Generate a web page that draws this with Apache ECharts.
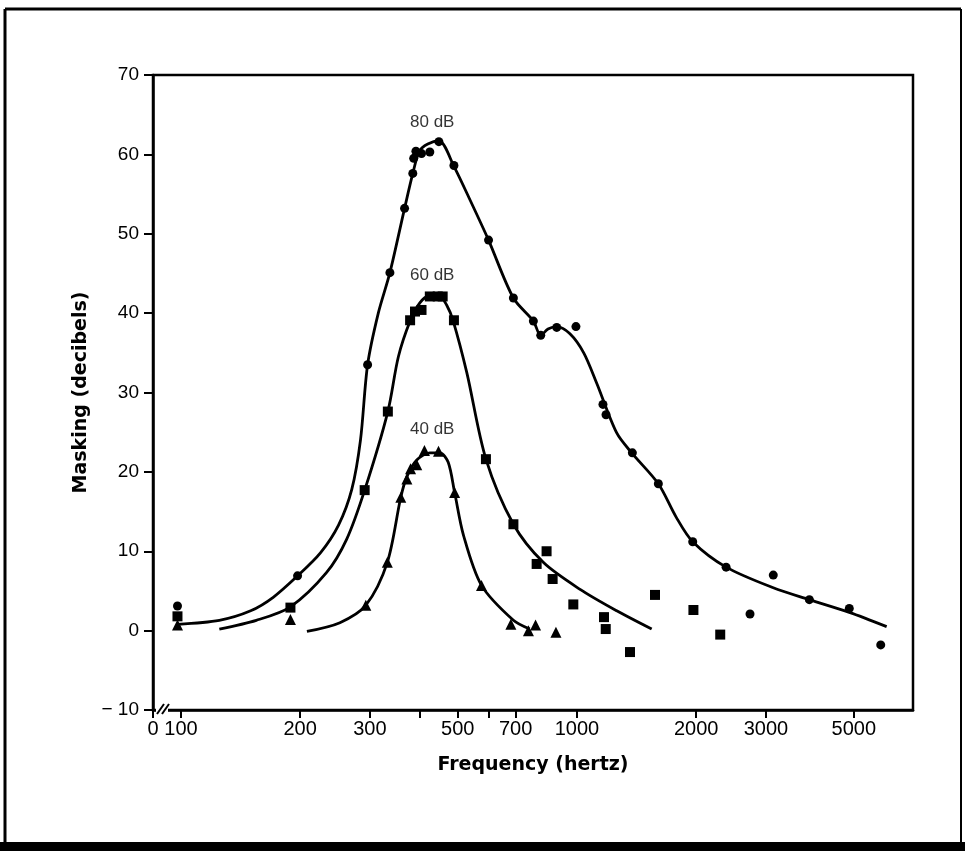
<!DOCTYPE html>
<html><head><meta charset="utf-8">
<script src="https://cdn.jsdelivr.net/npm/echarts@6/dist/echarts.min.js"></script>
<style>html,body{margin:0;padding:0;background:#fff}#c{width:965px;height:851px}</style>
</head><body><div id="c"></div><script>
// ---- axis ticks ----
const X_MIN = 85, X_MAX = 7055;
const X_TICKS = [85, 100, 200, 300, 400, 500, 600, 700, 1000, 2000, 3000, 5000];
const X_TICK_LABELS = ['0', '100', '200', '300', '', '500', '', '700', '1000', '2000', '3000', '5000'];
const Y_MIN = -10, Y_MAX = 70, Y_STEP = 10;

// ---- measured points [Hz, dB] ----
const points80 = [[98,3.1],[197,6.9],[296,33.5],[337,45.1],[367,53.2],[385,57.6],[387,59.5],[392,60.4],[405,60.1],[425,60.3],[448,61.6],[489,58.6],[598,49.2],[691,41.9],[776,39.0],[810,37.2],[889,38.2],[994,38.3],[1163,28.5],[1184,27.2],[1380,22.4],[1605,18.5],[1960,11.2],[2380,8.0],[2735,2.1],[3131,7.0],[3862,3.9],[4871,2.8],[5848,-1.8]];
const points60 = [[98,1.8],[189,2.9],[291,17.7],[333,27.6],[379,39.1],[390,40.2],[405,40.4],[425,42.1],[445,42.1],[458,42.1],[489,39.1],[589,21.6],[691,13.4],[791,8.4],[838,10.0],[868,6.5],[979,3.3],[1170,1.7],[1182,0.2],[1361,-2.7],[1574,4.5],[1968,2.6],[2300,-0.5]];
const points40 = [[98,0.7],[189,1.4],[293,3.2],[332,8.6],[359,16.8],[372,19.1],[380,20.4],[394,20.9],[412,22.7],[447,22.6],[491,17.4],[574,5.7],[681,0.8],[754,0.0],[786,0.7],[885,-0.2]];

// ---- fitted curves [Hz, dB] ----
const curve80 = [[98,0.8],[125,1.3],[150,2.5],[171,4.2],[197,6.9],[225,9.8],[250,13.3],[270,17.8],[284,24.0],[296,33.5],[315,40.0],[337,45.1],[367,53.2],[385,57.6],[400,60.4],[420,61.3],[448,61.7],[489,58.5],[540,54.0],[598,49.2],[691,41.9],[776,39.0],[810,37.2],[845,38.0],[889,38.3],[960,37.4],[1040,35.0],[1121,31.2],[1260,24.9],[1380,22.3],[1605,18.5],[1780,14.3],[1960,11.2],[2380,8.0],[3131,5.4],[3862,3.9],[4871,2.3],[6053,0.5]];
const curve60 = [[125,0.2],[155,1.3],[189,3.0],[233,7.3],[262,11.5],[291,17.7],[333,27.6],[354,34.5],[379,39.0],[401,41.3],[425,42.3],[445,42.4],[469,41.0],[487,39.0],[527,32.5],[589,21.6],[691,13.4],[822,8.6],[1018,5.2],[1260,2.5],[1544,0.2]];
const curve40 = [[208,-0.1],[252,1.0],[293,3.2],[332,8.6],[359,16.8],[372,19.4],[394,21.5],[425,22.4],[451,22.4],[473,21.2],[491,17.4],[517,12.0],[574,5.7],[691,1.3],[760,0.2]];

// ---- curve labels ----
const labelTexts = ['80 dB', '60 dB', '40 dB'];
const labelPoints = [[431,64.1],[431,44.8],[431,25.3]];

const FONT = '"Liberation Sans", Arial, Helvetica, sans-serif';
const BOLD = '"DejaVu Sans", sans-serif';

const chart = echarts.init(document.getElementById('c'), null, {renderer: 'canvas'});
const lineSeries = (d) => ({
  type: 'line', data: d, smooth: 0.3, showSymbol: false, symbol: 'none',
  lineStyle: {color: '#000', width: 2.8}, silent: true, z: 3
});
const dotSeries = (d, sym, size) => ({
  type: 'scatter', data: d, symbol: sym, symbolSize: size,
  itemStyle: {color: '#000', opacity: 1}, silent: true, z: 4
});

chart.setOption({
  animation: false,
  backgroundColor: '#fff',
  grid: {left: 153, top: 75, right: 52, bottom: 141, show: true, borderColor: '#000', borderWidth: 2.5, containLabel: false},
  xAxis: [
    {type: 'log', logBase: 10, min: X_MIN, max: X_MAX, show: false, position: 'bottom'},
    {
      type: 'value', position: 'bottom',
      min: Math.log10(X_MIN), max: Math.log10(X_MAX),
      name: 'Frequency (hertz)', nameLocation: 'middle', nameGap: 46,
      nameTextStyle: {fontFamily: BOLD, fontWeight: 'bold', fontSize: 19, color: '#000'},
      axisLine: {show: true, onZero: false, lineStyle: {color: '#000', width: 2.5}},
      axisTick: {show: true, inside: false, length: 8, lineStyle: {color: '#000', width: 2}, customValues: X_TICKS.map(Math.log10)},
      axisLabel: {
        show: true, margin: 9, color: '#000', fontFamily: FONT, fontSize: 20,
        customValues: X_TICKS.map(Math.log10),
        formatter: function (v) {
          let best = 0, bd = Infinity;
          X_TICKS.forEach((t, i) => { const d = Math.abs(Math.log10(t) - v); if (d < bd) { bd = d; best = i; } });
          return X_TICK_LABELS[best];
        }
      },
      splitLine: {show: false}
    }
  ],
  yAxis: {
    type: 'value', min: Y_MIN, max: Y_MAX, interval: Y_STEP,
    name: 'Masking (decibels)', nameLocation: 'middle', nameGap: 62, nameRotate: 90,
    nameTextStyle: {fontFamily: BOLD, fontWeight: 'bold', fontSize: 19, color: '#000'},
    axisLine: {show: true, onZero: false, lineStyle: {color: '#000', width: 2.5}},
    axisTick: {show: true, inside: false, length: 9, lineStyle: {color: '#000', width: 2}},
    axisLabel: {
      margin: 14, color: '#000', fontFamily: FONT, fontSize: 19,
      formatter: (v) => (v < 0 ? '\u2212 ' + Math.abs(v) : String(v))
    },
    splitLine: {show: false}
  },
  series: [
    lineSeries(curve80), lineSeries(curve60), lineSeries(curve40),
    dotSeries(points80, 'circle', 9),
    dotSeries(points60, 'rect', 10),
    dotSeries(points40, 'triangle', 11),
    {
      type: 'scatter', symbolSize: 0, silent: true, z: 5,
      data: labelPoints.map((p, i) => ({value: p, name: labelTexts[i]})),
      label: {show: true, position: 'inside', formatter: (p) => p.name, color: '#000', fontFamily: FONT, fontSize: 17}
    }
  ],
  graphic: [
    // outer frame of the figure
    {type: 'line', shape: {x1: 5, y1: 9, x2: 961, y2: 9}, style: {stroke: '#000', lineWidth: 3}},
    {type: 'line', shape: {x1: 5, y1: 9, x2: 5, y2: 843}, style: {stroke: '#000', lineWidth: 3}},
    {type: 'line', shape: {x1: 961, y1: 9, x2: 961, y2: 843}, style: {stroke: '#000', lineWidth: 2}},
    {type: 'rect', shape: {x: 0, y: 842, width: 965, height: 9}, style: {fill: '#000'}},
    // axis break mark
    {type: 'rect', shape: {x: 156, y: 706, width: 12, height: 7}, style: {fill: '#fff'}, z: 100},
    {type: 'line', shape: {x1: 157, y1: 714, x2: 164, y2: 704}, style: {stroke: '#000', lineWidth: 2}, z: 101},
    {type: 'line', shape: {x1: 162, y1: 714, x2: 169, y2: 704}, style: {stroke: '#000', lineWidth: 2}, z: 101}
  ]
});
</script></body></html>
